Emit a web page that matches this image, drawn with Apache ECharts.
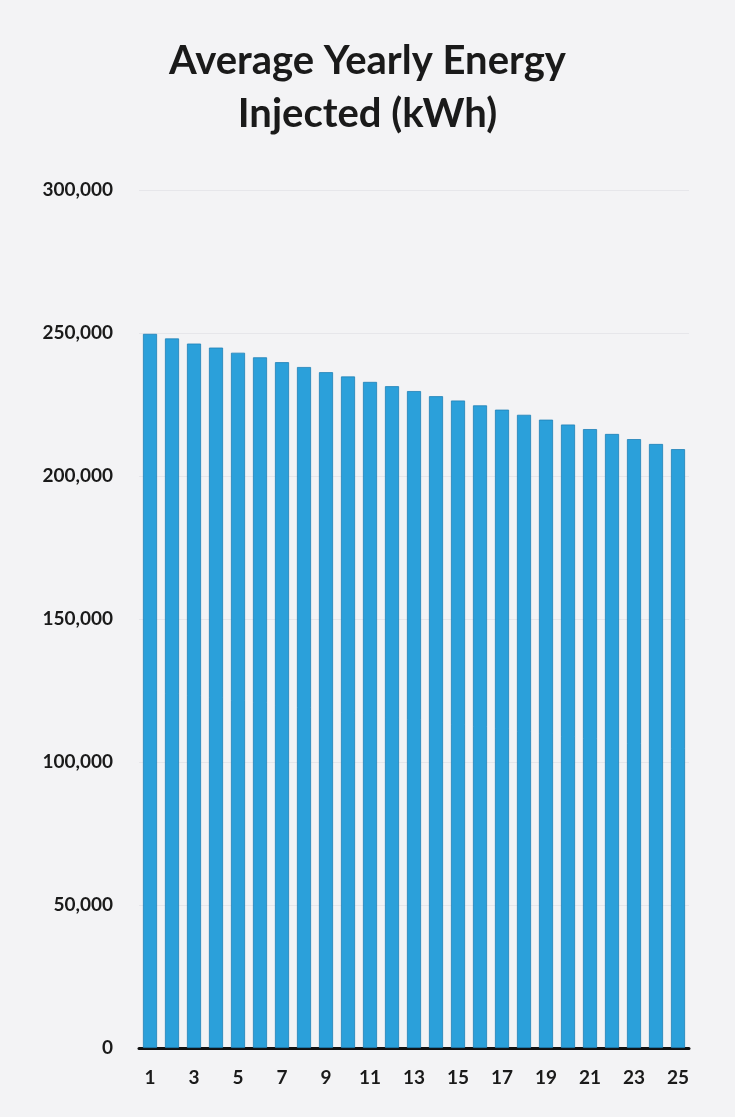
<!DOCTYPE html>
<html><head><meta charset="utf-8">
<script src="https://cdn.jsdelivr.net/npm/echarts@6/dist/echarts.min.js"></script>
<style>html,body{margin:0;padding:0;background:#f3f3f5}#c{width:735px;height:1117px}</style>
</head><body><div id="c"></div>
<script>
const titleText = "Average Yearly Energy\nInjected (kWh)";
const years = ["1","2","3","4","5","6","7","8","9","10","11","12","13","14","15","16","17","18","19","20","21","22","23","24","25"];
const energy = [249700,248100,246300,244900,243100,241500,239800,238100,236300,234800,232900,231400,229700,227900,226400,224700,223200,221400,219700,218000,216400,214700,212900,211200,209400];
const yMin = 0, yMax = 300000, yStep = 50000;

const chart = echarts.init(document.getElementById('c'));
chart.setOption({
  backgroundColor: '#f3f3f5',
  animation: false,
  title: {
    text: titleText, left: 'center', top: 30,
    textStyle: { fontFamily: 'Lato', fontWeight: 'bold', fontSize: 40, lineHeight: 53, color: '#1a1a1a' }
  },
  grid: { left: 139, right: 46, top: 190, bottom: 69 },
  xAxis: {
    type: 'category', data: years,
    axisLine: { lineStyle: { color: '#111', width: 3 } },
    axisTick: { show: false },
    axisLabel: { interval: 1, margin: 20, fontFamily: 'Lato', fontWeight: 'bold', fontSize: 19, color: '#1a1a1a' }
  },
  yAxis: {
    type: 'value', min: yMin, max: yMax, interval: yStep,
    axisLine: { show: false }, axisTick: { show: false },
    splitLine: { lineStyle: { color: '#e6e6ea', width: 1 } },
    axisLabel: { margin: 26, fontFamily: 'Lato', fontWeight: 'bold', fontSize: 19, color: '#1a1a1a',
      formatter: v => v.toLocaleString('en-US') }
  },
  series: [{
    type: 'bar', data: energy, barCategoryGap: '36%',
    itemStyle: { color: '#2ba0da', borderColor: '#1f80b6', borderWidth: 0.8 }
  }]
});
</script></body></html>
